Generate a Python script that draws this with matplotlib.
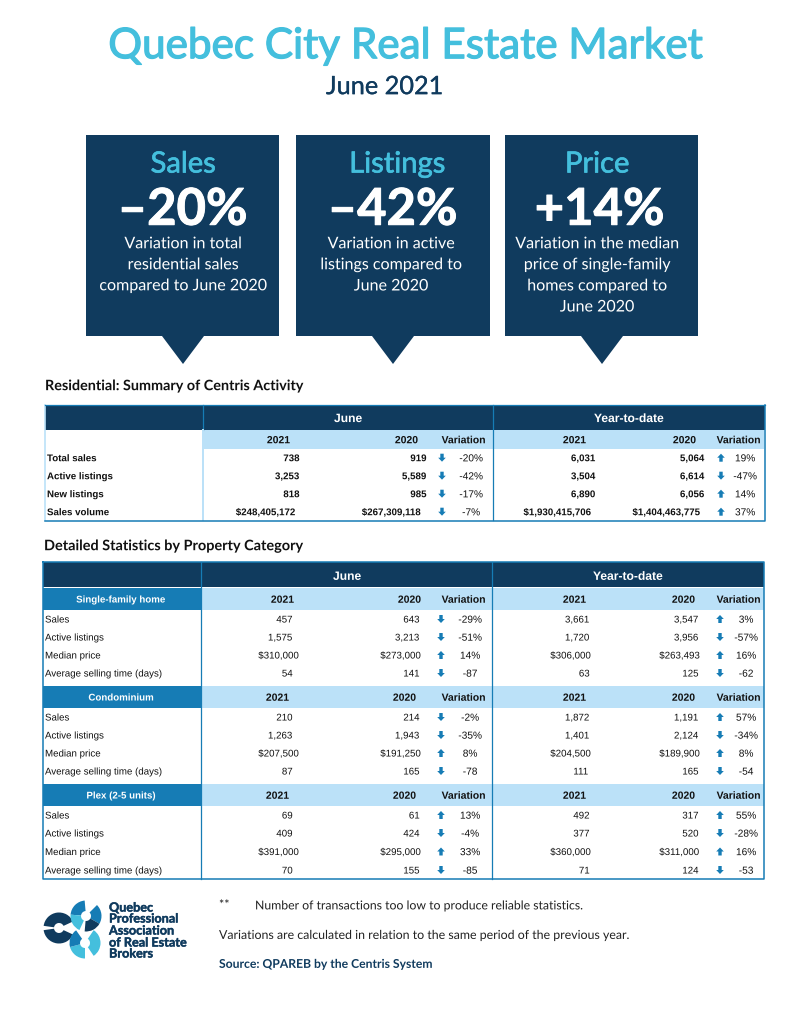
import matplotlib
matplotlib.use('Agg')
import matplotlib.pyplot as plt
import matplotlib.patheffects as pe
from matplotlib.patches import Rectangle, Polygon, Wedge

plt.rcParams['text.hinting'] = 'none'
plt.rcParams['text.hinting_factor'] = 1

NAVY = '#103b5e'
CYAN = '#44bfdd'
BLUE = '#167cb5'
LIGHT = '#bbe1f8'
BLACK = '#111111'
HEAD = 'Lato'
BODY = 'Liberation Sans'

# callouts
card_titles = ['Sales', 'Listings', 'Price']
card_values = ['–20%', '–42%', '+14%']
card_notes = [
    'Variation in total\nresidential sales\ncompared to June 2020',
    'Variation in active\nlistings compared to\nJune 2020',
    'Variation in the median\nprice of single-family\nhomes compared to\nJune 2020',
]

# summary table
summary_labels = ['Total sales', 'Active listings', 'New listings', 'Sales volume']
summary_june_2021 = ['738', '3,253', '818', '$248,405,172']
summary_june_2020 = ['919', '5,589', '985', '$267,309,118']
summary_june_var = ['-20%', '-42%', '-17%', '-7%']
summary_ytd_2021 = ['6,031', '3,504', '6,890', '$1,930,415,706']
summary_ytd_2020 = ['5,064', '6,614', '6,056', '$1,404,463,775']
summary_ytd_var = ['19%', '-47%', '14%', '37%']

# detail table
categories = ['Single-family home', 'Condominium', 'Plex (2-5 units)']
row_labels = ['Sales', 'Active listings', 'Median price', 'Average selling time (days)']
june_2021 = [['457', '1,575', '$310,000', '54'],
             ['210', '1,263', '$207,500', '87'],
             ['69', '409', '$391,000', '70']]
june_2020 = [['643', '3,213', '$273,000', '141'],
             ['214', '1,943', '$191,250', '165'],
             ['61', '424', '$295,000', '155']]
june_var = [['-29%', '-51%', '14%', '-87'],
            ['-2%', '-35%', '8%', '-78'],
            ['13%', '-4%', '33%', '-85']]
ytd_2021 = [['3,661', '1,720', '$306,000', '63'],
            ['1,872', '1,401', '$204,500', '111'],
            ['492', '377', '$360,000', '71']]
ytd_2020 = [['3,547', '3,956', '$263,493', '125'],
            ['1,191', '2,124', '$189,900', '165'],
            ['317', '520', '$311,000', '124']]
ytd_var = [['3%', '-57%', '16%', '-62'],
           ['57%', '-34%', '8%', '-54'],
           ['55%', '-28%', '16%', '-53']]

fig = plt.figure(figsize=(8, 10.15), dpi=100)
ax = fig.add_axes([0, 0, 1, 1])
ax.set_xlim(0, 800)
ax.set_ylim(1015, 0)
ax.axis('off')


def put(x, y, s, size=7, color=BLACK, ha='center', weight='normal', family=BODY, stroke=0):
    # y is the middle of the capitals, so rows share one baseline
    base = y + 0.36 * size * 100 / 72
    t = ax.text(x, base, s, fontsize=size, color=color, ha=ha, va='baseline', fontweight=weight,
                family=family)
    # drawing as paths stops the renderer snapping each string to its own pixel row
    if stroke:
        t.set_path_effects([pe.withStroke(linewidth=stroke, foreground=color)])
    else:
        t.set_path_effects([pe.Normal()])


def box(x0, y0, x1, y1, color):
    ax.add_patch(Rectangle((x0, y0), x1 - x0, y1 - y0, facecolor=color, edgecolor='none'))


def arrow(x, y, value):
    d = -1 if value.startswith('-') else 1  # up for a rise
    pts = [(x - 1.7, y + d * 4), (x + 1.7, y + d * 4), (x + 1.7, y), (x + 3.8, y),
           (x, y - d * 4), (x - 3.8, y), (x - 1.7, y)]
    ax.add_patch(Polygon(pts, closed=True, facecolor=BLUE, edgecolor='none'))


def cell(y, values, i, right, right_money, weight):
    v = values[i]
    put(right_money if v.startswith('$') else right, y, v, ha='right', weight=weight)


# title
put(404, 43, 'Quebec City Real Estate Market', size=30.4, color=CYAN, family=HEAD, stroke=0.9)
put(384, 85, 'June 2021', size=18.2, color=NAVY, family=HEAD, stroke=0.2)

# callouts
card_left = [86, 296, 505]
card_right = [279, 490, 698]
card_tip = [183, 393, 602]
title_x = [183, 397, 597]
value_x = [183, 393, 600]
note_x = [183, 391, 597]
for i in range(3):
    l, r, t = card_left[i], card_right[i], card_tip[i]
    ax.add_patch(Polygon([(l, 135), (r, 135), (r, 336), (t + 21, 336), (t, 364), (t - 21, 336), (l, 336)],
                         closed=True, facecolor=NAVY, edgecolor='none'))
    put(title_x[i], 162, card_titles[i], size=21, color=CYAN, family=HEAD, stroke=0.5)
    put(value_x[i], 206.5, card_values[i], size=36.5, color='white', family=HEAD, weight='bold', stroke=0.7)
    note = ax.text(note_x[i], 236.5, card_notes[i], fontsize=11.55, color='white', ha='center', va='top',
                   family=HEAD, linespacing=1.55)
    note.set_path_effects([pe.Normal()])

# summary table
put(45, 385, 'Residential: Summary of Centris Activity', size=10.36, ha='left', weight='bold', family=HEAD)
box(45, 405, 765, 430, NAVY)
box(203, 430, 764, 449, LIGHT)
put(348, 417.7, 'June', size=8.7, color='white', weight='bold')
put(629, 417.7, 'Year-to-date', size=8.7, color='white', weight='bold')
for x, s in zip([278, 406, 463, 574, 684, 738], ['2021', '2020', 'Variation'] * 2):
    put(x, 439.5, s, size=7.5, weight='bold')
ax.plot([203, 203], [405, 430], color=BLUE, lw=0.9)
ax.plot([203, 203], [430, 520], color=LIGHT, lw=1.4)
ax.plot([493, 493], [405, 520], color=BLUE, lw=0.9)
ax.plot([45, 45], [405, 520], color=LIGHT, lw=1.2)
ax.plot([45, 765, 765], [520.5, 520.5, 405], color=BLUE, lw=1.1)
ax.plot([45, 765], [405, 405], color=BLUE, lw=0.9)
for i, label in enumerate(summary_labels):
    y = [457.7, 475.7, 493.7, 511.7][i]
    put(47, y, label, ha='left', weight='bold')
    cell(y, summary_june_2021, i, 300, 297, 'bold')
    cell(y, summary_june_2020, i, 427, 423, 'bold')
    cell(y, summary_ytd_2021, i, 596, 593, 'bold')
    cell(y, summary_ytd_2020, i, 705, 702, 'bold')
    arrow(442, y, summary_june_var[i])
    arrow(721, y, summary_ytd_var[i])
    put(471, y, summary_june_var[i], size=7.3)
    put(745, y, summary_ytd_var[i], size=7.3)

# detail table
put(44, 545, 'Detailed Statistics by Property Category', size=10.42, ha='left', weight='bold', family=HEAD)
box(43, 562, 764, 587, NAVY)
put(347, 575.5, 'June', size=8.7, color='white', weight='bold')
put(628, 575.5, 'Year-to-date', size=8.7, color='white', weight='bold')
band_tops = [588, 686, 784]
head_x = [[282, 409, 463, 574, 683, 738], [277, 404, 463, 574, 683, 738], [277, 404, 463, 574, 683, 738]]
row_ys = [[619, 637, 655, 673], [717, 735, 753, 771], [815, 833, 851.5, 870]]
for c, cat in enumerate(categories):
    top = band_tops[c]
    box(43, top, 201, top + 22, BLUE)
    box(201, top, 764, top + 22, LIGHT)
    put(122, top + 11, cat, color='white', weight='bold')
    for x, s in zip(head_x[c], ['2021', '2020', 'Variation'] * 2):
        put(x, top + 11, s, size=7.5, weight='bold')
    for i, label in enumerate(row_labels):
        y = row_ys[c][i]
        put(45, y, label, ha='left', size=7)
        cell(y, june_2021[c], i, 293, 300, 'normal')
        cell(y, june_2020[c], i, 420, 422, 'normal')
        cell(y, ytd_2021[c], i, 590, 592, 'normal')
        cell(y, ytd_2020[c], i, 699, 701, 'normal')
        arrow(441, y, june_var[c][i])
        arrow(720, y, ytd_var[c][i])
        put(470, y, june_var[c][i], size=7.3)
        put(746, y, ytd_var[c][i], size=7.3)
ax.plot([201, 201], [562, 879], color=BLUE, lw=0.9)
ax.plot([492, 492], [562, 879], color=BLUE, lw=0.9)
ax.plot([43, 43, 764, 764, 43], [562, 878.5, 878.5, 562, 562], color=BLUE, lw=1.1)

# logo
rings = [
    (59, 928, [(25, 172, NAVY), (188, 335, NAVY)]),
    (86, 916, [(95, 175, BLUE), (175, 245, CYAN), (-30, 45, BLUE), (-95, -30, NAVY)]),
    (85, 943, [(-56, 56, CYAN), (195, 270, CYAN), (125, 195, BLUE)]),
]
for cx, cy, arcs in rings:
    for t1, t2, col in arcs:
        # y axis runs down, so screen angles are mirrored
        ax.add_patch(Wedge((cx, cy), 15.5, -t2, -t1, width=10.5, facecolor=col, edgecolor='none'))
for y, s in zip([907, 918, 930, 942, 953],
                ['Quebec', 'Professional', 'Association', 'of Real Estate', 'Brokers']):
    put(109, y, s, size=9.1, color=NAVY, ha='left', weight='bold', family=HEAD, stroke=0.3)

# notes
put(219, 904, '**', size=8.9, ha='left', family=HEAD, color='#222222')
put(255, 905, 'Number of transactions too low to produce reliable statistics.', size=8.82, ha='left',
    family=HEAD, color='#222222')
put(219, 934.5, 'Variations are calculated in relation to the same period of the previous year.', size=8.9,
    ha='left', family=HEAD, color='#222222')
put(219, 963.5, 'Source: QPAREB by the Centris System', size=8.75, ha='left', weight='bold', family=HEAD,
    color=NAVY)

fig.savefig('out.png', dpi=100)
